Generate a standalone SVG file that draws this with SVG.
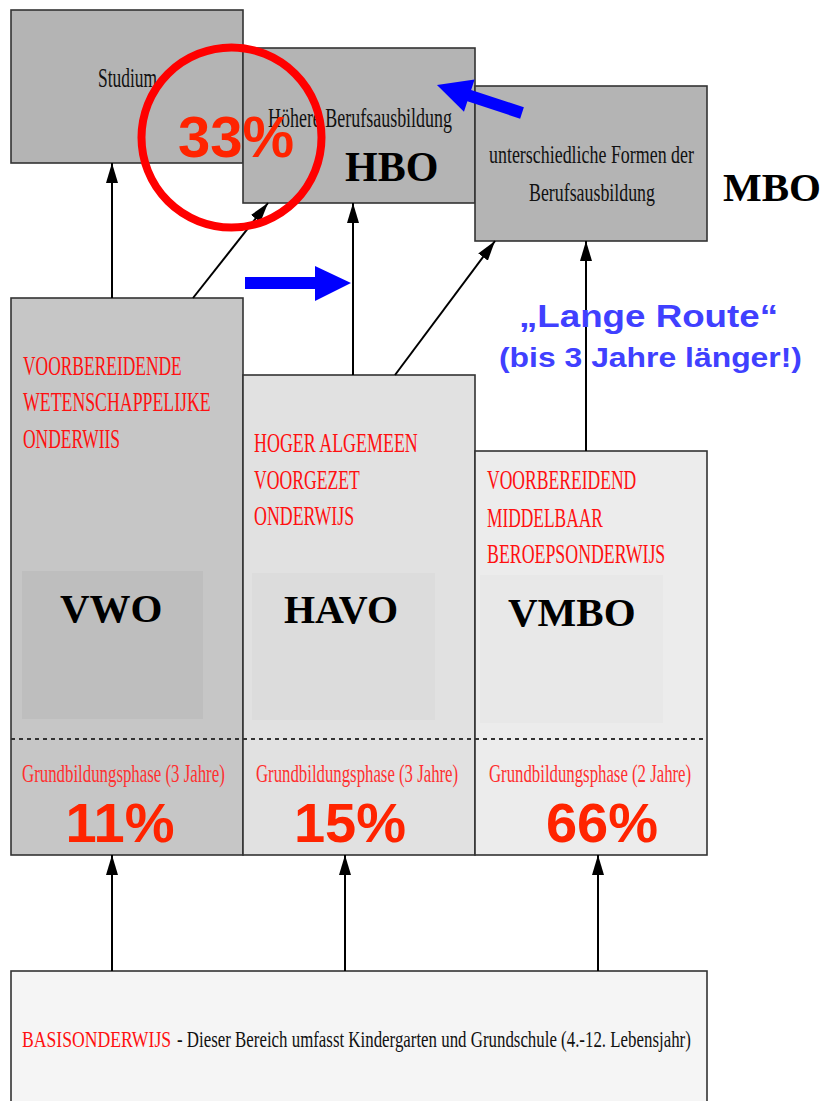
<svg xmlns="http://www.w3.org/2000/svg" width="827" height="1101" viewBox="0 0 827 1101">
<style>
.box{stroke:#333;stroke-width:1.6}
.grey{font-family:"Liberation Serif",serif;fill:#111}
.red{font-family:"Liberation Serif",serif;fill:#ff1010}
.redl{font-family:"Liberation Serif",serif;fill:#ff3030}
.big{font-family:"Liberation Serif",serif;font-weight:bold;fill:#000}
.pct{font-family:"Liberation Sans",sans-serif;font-weight:bold;fill:#ff2400;text-anchor:middle}
.blue{font-family:"Liberation Sans",sans-serif;font-weight:bold;fill:#4040ff}
.conn{stroke:#000;stroke-width:2;fill:none}
</style>
<defs>
<marker id="ah" viewBox="0 0 20 12" refX="20" refY="6" markerWidth="20" markerHeight="12" markerUnits="userSpaceOnUse" orient="auto">
<path d="M0,0 L20,6 L0,12 z" fill="#000"/>
</marker>
</defs>
<rect width="827" height="1101" fill="#fff"/>

<g id="studium">
<rect class="box" x="11" y="10" width="232" height="153" fill="#b4b4b4"/>
<text class="grey" transform="translate(98,87) scale(0.645,1)" font-size="27" textLength="91.5" lengthAdjust="spacingAndGlyphs">Studium</text>
</g>
<g id="hbo">
<rect class="box" x="243" y="48" width="232" height="155" fill="#b4b4b4"/>
<text class="grey" transform="translate(268,127) scale(0.665,1)" font-size="27" textLength="276.7" lengthAdjust="spacingAndGlyphs">Höhere Berufsausbildung</text>
<text class="big" x="345" y="181" font-size="42">HBO</text>
</g>
<g id="mbo">
<rect class="box" x="475" y="86" width="232" height="155" fill="#b4b4b4"/>
<text class="grey" transform="translate(489,163) scale(0.689,1)" font-size="26" textLength="297.5" lengthAdjust="spacingAndGlyphs">unterschiedliche Formen der</text>
<text class="grey" transform="translate(529,201) scale(0.688,1)" font-size="26" textLength="183.1" lengthAdjust="spacingAndGlyphs">Berufsausbildung</text>
<text class="big" x="723" y="201" font-size="41">MBO</text>
</g>

<g id="vwo">
<rect class="box" x="11" y="298" width="232" height="557" fill="#c6c6c6"/>
<rect x="22" y="571" width="181" height="148" fill="#bebebe"/>
<text class="red" transform="translate(23,375) scale(0.63,1)" font-size="28" textLength="252" lengthAdjust="spacingAndGlyphs">VOORBEREIDENDE</text>
<text class="red" transform="translate(23,411) scale(0.63,1)" font-size="28" textLength="298" lengthAdjust="spacingAndGlyphs">WETENSCHAPPELIJKE</text>
<text class="red" transform="translate(23,448) scale(0.63,1)" font-size="28" textLength="154" lengthAdjust="spacingAndGlyphs">ONDERWIIS</text>
<text class="big" x="60" y="622" font-size="41">VWO</text>
<text class="redl" transform="translate(22,782) scale(0.65,1)" font-size="26" textLength="312" lengthAdjust="spacingAndGlyphs">Grundbildungsphase (3 Jahre)</text>
<text class="pct" x="120" y="842" font-size="56">11%</text>
</g>
<g id="havo">
<rect class="box" x="243" y="375" width="232" height="480" fill="#e1e1e1"/>
<rect x="252" y="573" width="183" height="147" fill="#dcdcdc"/>
<text class="red" transform="translate(254,452) scale(0.63,1)" font-size="28" textLength="260" lengthAdjust="spacingAndGlyphs">HOGER ALGEMEEN</text>
<text class="red" transform="translate(254,489) scale(0.63,1)" font-size="28" textLength="168" lengthAdjust="spacingAndGlyphs">VOORGEZET</text>
<text class="red" transform="translate(254,525) scale(0.63,1)" font-size="28" textLength="159" lengthAdjust="spacingAndGlyphs">ONDERWIJS</text>
<text class="big" x="284" y="623" font-size="40">HAVO</text>
<text class="redl" transform="translate(256,782) scale(0.65,1)" font-size="26" textLength="311" lengthAdjust="spacingAndGlyphs">Grundbildungsphase (3 Jahre)</text>
<text class="pct" x="350" y="842" font-size="56">15%</text>
</g>
<g id="vmbo">
<rect class="box" x="475" y="451" width="232" height="404" fill="#ececec"/>
<rect x="480" y="575" width="183" height="148" fill="#e8e8e8"/>
<text class="red" transform="translate(487,489) scale(0.63,1)" font-size="28" textLength="237" lengthAdjust="spacingAndGlyphs">VOORBEREIDEND</text>
<text class="red" transform="translate(487,527) scale(0.63,1)" font-size="28" textLength="184" lengthAdjust="spacingAndGlyphs">MIDDELBAAR</text>
<text class="red" transform="translate(487,563) scale(0.63,1)" font-size="28" textLength="283" lengthAdjust="spacingAndGlyphs">BEROEPSONDERWIJS</text>
<text class="big" x="508" y="626" font-size="41">VMBO</text>
<text class="redl" transform="translate(489,782) scale(0.65,1)" font-size="26" textLength="311" lengthAdjust="spacingAndGlyphs">Grundbildungsphase (2 Jahre)</text>
<text class="pct" x="602" y="842" font-size="56">66%</text>
</g>
<line id="phase-divider" x1="11" y1="739" x2="707" y2="739" stroke="#333" stroke-width="2" stroke-dasharray="4,4"/>

<g id="basis">
<rect class="box" x="11" y="971" width="696" height="140" fill="#f5f5f5"/>
<text class="red" transform="translate(22,1047) scale(0.7,1)" font-size="24" textLength="213" lengthAdjust="spacingAndGlyphs">BASISONDERWIJS</text>
<text class="grey" transform="translate(177,1047) scale(0.7,1)" font-size="24" textLength="734" lengthAdjust="spacingAndGlyphs">- Dieser Bereich umfasst Kindergarten und Grundschule (4.-12. Lebensjahr)</text>
</g>

<g id="connectors">
<line class="conn" x1="112" y1="298" x2="112" y2="163" marker-end="url(#ah)"/>
<line class="conn" x1="193" y1="298" x2="268" y2="203" marker-end="url(#ah)"/>
<line class="conn" x1="353" y1="375" x2="353" y2="203" marker-end="url(#ah)"/>
<line class="conn" x1="395" y1="375" x2="495" y2="241" marker-end="url(#ah)"/>
<line class="conn" x1="586" y1="451" x2="586" y2="241" marker-end="url(#ah)"/>
<line class="conn" x1="112" y1="971" x2="112" y2="855" marker-end="url(#ah)"/>
<line class="conn" x1="345" y1="971" x2="345" y2="855" marker-end="url(#ah)"/>
<line class="conn" x1="598" y1="971" x2="598" y2="855" marker-end="url(#ah)"/>
</g>

<g id="annotations">
<polygon points="245,277 315,277 315,266 351,283 315,301 315,289 245,289" fill="#0000ff"/>
<polygon transform="translate(522,113) rotate(198.2)" points="0,-6 55.5,-6 55.5,-17 89.5,0 55.5,17 55.5,6 0,6" fill="#0000ff"/>
<circle cx="231.5" cy="137.5" r="90" fill="none" stroke="#ff0000" stroke-width="8"/>
<text class="pct" x="236" y="157" font-size="58">33%</text>
<text class="blue" x="519" y="327" font-size="32" textLength="259" lengthAdjust="spacingAndGlyphs">„Lange Route“</text>
<text class="blue" x="499" y="367" font-size="27" textLength="303" lengthAdjust="spacingAndGlyphs">(bis 3 Jahre länger!)</text>
</g>
</svg>
